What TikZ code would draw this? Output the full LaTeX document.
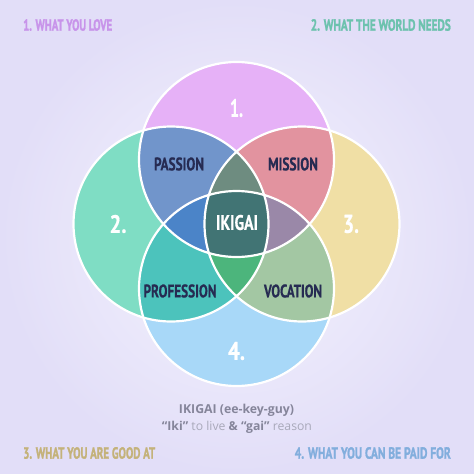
\documentclass[tikz,border=0pt]{standalone}
\usepackage{fontspec}
\setmainfont{Open Sans}
\newfontfamily\condfont[FakeBold=1.6]{PT Sans}
\newfontfamily\zonefont[FakeBold=0.6]{PT Sans}
\usepackage{graphicx}
\definecolor{bgin}{HTML}{F5F4FD}
\definecolor{bgout}{HTML}{E2DEF8}
\definecolor{cTop}{HTML}{E6B1F7}
\definecolor{cLeft}{HTML}{7FDDC4}
\definecolor{cRight}{HTML}{F0DFA5}
\definecolor{cBot}{HTML}{A8D8F8}
\definecolor{cPassion}{HTML}{7195CB}
\definecolor{cMission}{HTML}{E2939F}
\definecolor{cProf}{HTML}{4CC3BC}
\definecolor{cVoc}{HTML}{A3C7A3}
\definecolor{cTLR}{HTML}{6E8C80}
\definecolor{cTLB}{HTML}{4B84C8}
\definecolor{cTRB}{HTML}{9A88A8}
\definecolor{cBLR}{HTML}{4CB57C}
\definecolor{cAll}{HTML}{417474}
\definecolor{navy}{HTML}{262B52}
\definecolor{lbOne}{HTML}{C894EA}
\definecolor{lbTwo}{HTML}{6DC2AE}
\definecolor{lbThree}{HTML}{C4B27A}
\definecolor{lbFour}{HTML}{82AEDD}
\definecolor{grayA}{HTML}{85859A}
\definecolor{grayB}{HTML}{A9A9BA}
\def\crad{97.5pt}
\begin{document}
\begin{tikzpicture}[x=1pt,y=-1pt,
  outline/.style={draw=white,line width=2.2pt},
  cornerlbl/.style={inner sep=0pt,font=\condfont\bfseries},
  numlbl/.style={inner sep=0pt,text=white,font=\zonefont\bfseries},
  zonelbl/.style={inner sep=0pt,text=navy,font=\zonefont\bfseries},
  note/.style={inner sep=0pt,align=center}]
\useasboundingbox (0,0) rectangle (474,474);
\shade[inner color=bgin,outer color=bgout] (0,0) rectangle (474,474);
\coordinate (T) at (236.5,159.5);
\coordinate (B) at (236.5,288.5);
\coordinate (L) at (171,224);
\coordinate (R) at (302,224);
% circles
\fill[cTop] (T) circle[radius=\crad];
\fill[cLeft] (L) circle[radius=\crad];
\fill[cRight] (R) circle[radius=\crad];
\fill[cBot] (B) circle[radius=\crad];
% pairs
\begin{scope}\clip (T) circle[radius=\crad]; \fill[cPassion] (L) circle[radius=\crad];\end{scope}
\begin{scope}\clip (T) circle[radius=\crad]; \fill[cMission] (R) circle[radius=\crad];\end{scope}
\begin{scope}\clip (B) circle[radius=\crad]; \fill[cProf] (L) circle[radius=\crad];\end{scope}
\begin{scope}\clip (B) circle[radius=\crad]; \fill[cVoc] (R) circle[radius=\crad];\end{scope}
% triples
\begin{scope}\clip (T) circle[radius=\crad]; \clip (L) circle[radius=\crad]; \fill[cTLR] (R) circle[radius=\crad];\end{scope}
\begin{scope}\clip (T) circle[radius=\crad]; \clip (L) circle[radius=\crad]; \fill[cTLB] (B) circle[radius=\crad];\end{scope}
\begin{scope}\clip (T) circle[radius=\crad]; \clip (R) circle[radius=\crad]; \fill[cTRB] (B) circle[radius=\crad];\end{scope}
\begin{scope}\clip (B) circle[radius=\crad]; \clip (L) circle[radius=\crad]; \fill[cBLR] (R) circle[radius=\crad];\end{scope}
% all four
\begin{scope}\clip (T) circle[radius=\crad]; \clip (L) circle[radius=\crad]; \clip (R) circle[radius=\crad]; \fill[cAll] (B) circle[radius=\crad];\end{scope}
% outlines
\draw[outline] (T) circle[radius=\crad];
\draw[outline] (L) circle[radius=\crad];
\draw[outline] (R) circle[radius=\crad];
\draw[outline] (B) circle[radius=\crad];
% corner labels
\node[cornerlbl,text=lbOne,anchor=west] (c1) at (23,25) {\resizebox{89pt}{11.5pt}{1. WHAT YOU LOVE}};
\node[cornerlbl,text=lbTwo,anchor=east] (c2) at (451,25) {\resizebox{140pt}{11.5pt}{2. WHAT THE WORLD NEEDS}};
\node[cornerlbl,text=lbThree,anchor=west] (c3) at (23,453) {\resizebox{132pt}{11.5pt}{3. WHAT YOU ARE GOOD AT}};
\node[cornerlbl,text=lbFour,anchor=east] (c4) at (451,453) {\resizebox{156pt}{11.5pt}{4. WHAT YOU CAN BE PAID FOR}};
% numbers
\node[numlbl] (n1) at (236.5,108) {\resizebox{13pt}{18pt}{1.}};
\node[numlbl] (n2) at (118,224) {\resizebox{17pt}{18pt}{2.}};
\node[numlbl] (n3) at (351,224) {\resizebox{16pt}{18pt}{3.}};
\node[numlbl] (n4) at (236.5,351) {\resizebox{17pt}{18pt}{4.}};
% zones
\node[zonelbl] (passion) at (179,164) {\resizebox{50pt}{13pt}{PASSION}};
\node[zonelbl] (mission) at (293,164) {\resizebox{50pt}{13pt}{MISSION}};
\node[zonelbl] (profession) at (180,291) {\resizebox{73pt}{13pt}{PROFESSION}};
\node[zonelbl] (vocation) at (293,291) {\resizebox{58pt}{13pt}{VOCATION}};
\node[numlbl] (ikigai) at (237,222.5) {\resizebox{42pt}{15pt}{IKIGAI}};
% bottom note
\node[note,text=grayA] (pron) at (236.5,410) {\resizebox{115pt}{!}{\bfseries IKIGAI (ee-key-guy)}};
\node[note] (meaning) at (237,427) {\resizebox{150pt}{!}{\textcolor{grayA}{\bfseries “Iki”} \textcolor{grayB}{to live} \textcolor{grayA}{\bfseries \&} \textcolor{grayA}{\bfseries “gai”} \textcolor{grayB}{reason}}};
\end{tikzpicture}
\end{document}
